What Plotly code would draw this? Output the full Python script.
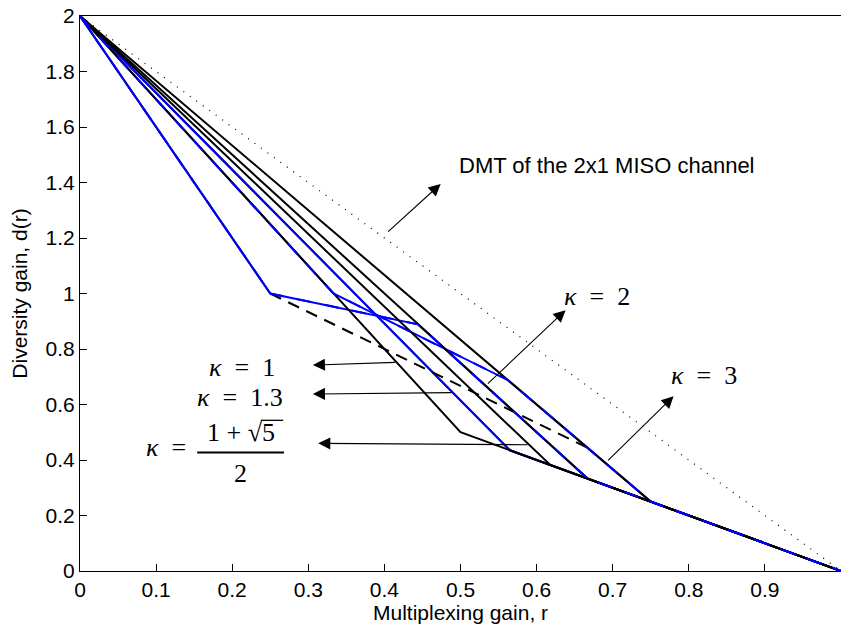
import plotly.graph_objects as go

# ---------------- data ----------------
dmt_r = [0, 1]
dmt_d = [2, 0]

# black curves (one per kappa): straight to the corner on d = 1 - r, then along it
k1_r = [0, 0.5, 1];     k1_d = [2, 0.5, 0]
kphi_r = [0, 0.618, 1]; kphi_d = [2, 0.382, 0]
k2_r = [0, 0.667, 1];   k2_d = [2, 0.333, 0]
k3_r = [0, 0.75, 1];    k3_d = [2, 0.25, 0]
k13_black_r = [0, 0.565, 1]; k13_black_d = [2, 0.435, 0]

# blue curves
k13_r = [0, 0.565, 1];  k13_d = [2, 0.435, 0]
b2_r = [0, 0.25, 0.444, 0.667, 1];  b2_d = [2, 1, 0.889, 0.333, 0]   # kappa = 2
b3_r = [0, 0.333, 0.5625, 0.75, 1]; b3_d = [2, 1, 0.6875, 0.25, 0]   # kappa = 3

# black line under the first blue segment
k2a_r = [0, 0.25]; k2a_d = [2, 1]

# dashed curve
dash_r = [0.25, 0.667]
dash_d = [1, 0.444]

x_ticks = [0, 0.1, 0.2, 0.3, 0.4, 0.5, 0.6, 0.7, 0.8, 0.9, 1]
x_tick_text = ["0", "0.1", "0.2", "0.3", "0.4", "0.5", "0.6", "0.7", "0.8", "0.9", "1"]
y_ticks = [0, 0.2, 0.4, 0.6, 0.8, 1, 1.2, 1.4, 1.6, 1.8, 2]
y_tick_text = ["0", "0.2", "0.4", "0.6", "0.8", "1", "1.2", "1.4", "1.6", "1.8", "2"]

BLUE = "#0000ff"
fig = go.Figure()

fig.add_trace(go.Scatter(x=dmt_r, y=dmt_d, mode="lines",
                         line=dict(color="black", width=1.2, dash="1px,7px")))
for r, d in [(k13_black_r, k13_black_d), (k2a_r, k2a_d)]:
    fig.add_trace(go.Scatter(x=r, y=d, mode="lines", line=dict(color="black", width=2)))
for r, d in [(k13_r, k13_d), (b2_r, b2_d), (b3_r, b3_d)]:
    fig.add_trace(go.Scatter(x=r, y=d, mode="lines", line=dict(color=BLUE, width=2)))
for r, d in [(k1_r, k1_d), (kphi_r, kphi_d), (k2_r, k2_d), (k3_r, k3_d)]:
    fig.add_trace(go.Scatter(x=r, y=d, mode="lines", line=dict(color="black", width=2)))
fig.add_trace(go.Scatter(x=dash_r, y=dash_d, mode="lines",
                         line=dict(color="black", width=2, dash="12px,8px")))
# blue visible on parts of overlapping segments
for r, d in [(b2_r, b2_d), (b3_r, b3_d)]:
    fig.add_trace(go.Scatter(x=r, y=d, mode="lines", line=dict(color=BLUE, width=2, dash="14px,14px")))

# arrows: (head_x, head_y, tail_x, tail_y)
arrows = [
    (0.474, 1.395, 0.403, 1.218),
    (0.638, 0.94, 0.534, 0.67),
    (0.78, 0.63, 0.692, 0.393),
    (0.306, 0.742, 0.416, 0.752),
    (0.306, 0.638, 0.49, 0.643),
    (0.313, 0.46, 0.59, 0.455),
]
for hx, hy, tx, ty in arrows:
    fig.add_annotation(x=hx, y=hy, ax=tx, ay=ty, xref="x", yref="y", axref="x", ayref="y",
                       text="", showarrow=True, arrowhead=2, arrowsize=2.2, arrowwidth=1.1,
                       arrowcolor="black")

sans = "Liberation Sans, Arial, sans-serif"
serif = "Liberation Serif, DejaVu Serif, serif"
SP = "\u2002"

fig.add_annotation(x=0.495, y=1.463, xref="x", yref="y", text="DMT of the 2x1 MISO channel",
                   showarrow=False, xanchor="left", font=dict(family=sans, size=22, color="black"))
fig.add_annotation(x=0.2585, y=0.735, xref="x", yref="y", text=f"<i>κ</i>{SP}={SP}1",
                   showarrow=False, xanchor="right", font=dict(family=serif, size=26, color="black"))
fig.add_annotation(x=0.269, y=0.627, xref="x", yref="y", text=f"<i>κ</i>{SP}={SP}1.3",
                   showarrow=False, xanchor="right", font=dict(family=serif, size=26, color="black"))
fig.add_annotation(x=0.142, y=0.445, xref="x", yref="y", text=f"<i>κ</i>{SP}=",
                   showarrow=False, xanchor="right", font=dict(family=serif, size=26, color="black"))
fig.add_annotation(x=0.211, y=0.5, xref="x", yref="y", text="1 + √5",
                   showarrow=False, xanchor="center", font=dict(family=serif, size=26, color="black"))
fig.add_shape(type="line", x0=0.2375, x1=0.267, y0=0.543, y1=0.543, xref="x", yref="y",
              line=dict(color="black", width=1.3))
fig.add_annotation(x=0.211, y=0.35, xref="x", yref="y", text="2",
                   showarrow=False, xanchor="center", font=dict(family=serif, size=26, color="black"))
fig.add_shape(type="line", x0=0.154, x1=0.268, y0=0.427, y1=0.427, xref="x", yref="y",
              line=dict(color="black", width=2))
fig.add_annotation(x=0.68, y=0.99, xref="x", yref="y", text=f"<i>κ</i>{SP}={SP}2",
                   showarrow=False, font=dict(family=serif, size=26, color="black"))
fig.add_annotation(x=0.82, y=0.706, xref="x", yref="y", text=f"<i>κ</i>{SP}={SP}3",
                   showarrow=False, font=dict(family=serif, size=26, color="black"))

axis_common = dict(showline=True, mirror=True, linecolor="black", linewidth=1,
                   ticks="inside", ticklen=7, tickcolor="black", showgrid=False, zeroline=False,
                   tickfont=dict(family=sans, size=21, color="black"))
fig.update_xaxes(range=[0, 1], tickvals=x_ticks, ticktext=x_tick_text,
                 title=dict(text="Multiplexing gain, r", font=dict(family=sans, size=21, color="black"),
                            standoff=4), **axis_common)
fig.update_yaxes(range=[0, 2], tickvals=y_ticks, ticktext=y_tick_text,
                 title=dict(text="Diversity gain, d(r)", font=dict(family=sans, size=21, color="black"),
                            standoff=12), **axis_common)

fig.update_layout(width=841, height=627, margin=dict(l=80, r=0, t=16, b=56),
                  paper_bgcolor="white", plot_bgcolor="white", showlegend=False)

fig.write_html("out.html")
